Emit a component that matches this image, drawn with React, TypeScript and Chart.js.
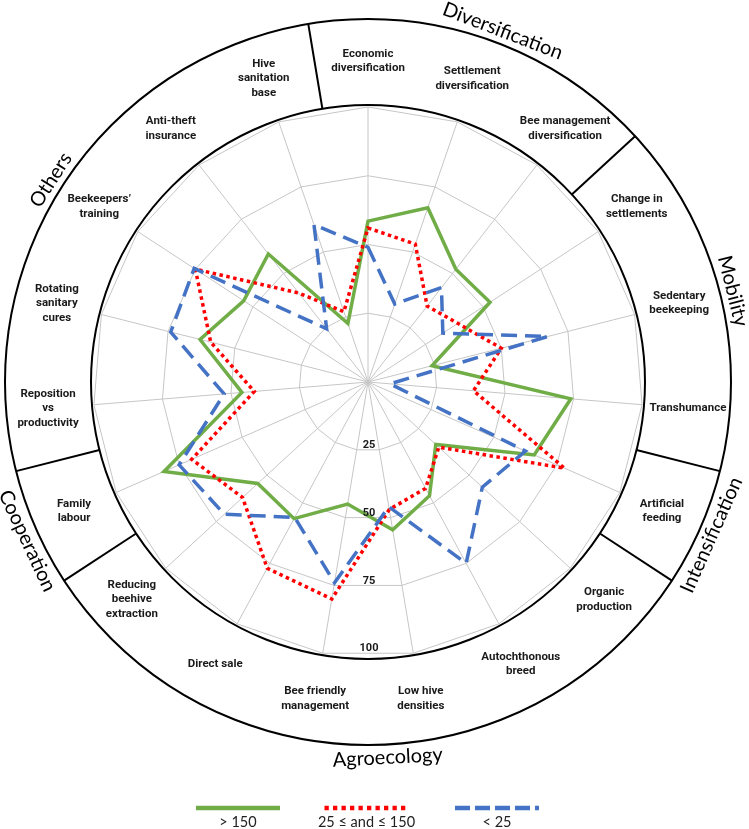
import React, { useEffect, useRef } from 'react';
import { Chart, registerables } from 'chart.js';

Chart.register(...registerables);

// ---------- data ----------
const categories: string[][] = [
  ['Economic', 'diversification'],
  ['Settlement', 'diversification'],
  ['Bee management', 'diversification'],
  ['Change in', 'settlements'],
  ['Sedentary', 'beekeeping'],
  ['Transhumance'],
  ['Artificial', 'feeding'],
  ['Organic', 'production'],
  ['Autochthonous', 'breed'],
  ['Low hive', 'densities'],
  ['Bee friendly', 'management'],
  ['Direct sale'],
  ['Reducing', 'beehive', 'extraction'],
  ['Family', 'labour'],
  ['Reposition', 'vs', 'productivity'],
  ['Rotating', 'sanitary', 'cures'],
  ['Beekeepers\u2019', 'training'],
  ['Anti-theft', 'insurance'],
  ['Hive', 'sanitation', 'base'],
];

const groupNames = ['Diversification', 'Mobility', 'Intensification', 'Agroecology', 'Cooperation', 'Others'];
const groupFirstIndex = [0, 3, 6, 7, 13, 14];

const seriesLabels = ['> 150', '25 \u2264 and \u2264 150', '< 25'];
const over150 = [58.5, 67, 52, 53, 24, 74, 66, 33.5, 47, 54.5, 45, 56.5, 54.5, 81, 46, 63, 54, 59, 22.5];
const from25to150 = [56, 53, 35, 39, 50, 38.5, 78, 35, 44, 47, 80, 77, 62, 70, 41.5, 59, 75, 41, 27];
const under25 = [49, 30, 43.5, 32.5, 67.5, 8, 62.5, 56.5, 75, 46, 74, 56, 71, 75, 52.5, 74, 75.5, 24.5, 60.5];

const tickValues = [25, 50, 75, 100];

// ---------- layout ----------
const W = 749;
const H = 829;
const CX = 368;
const CY = 382;
const RADIUS = 275;
const INNER_R = 277;
const OUTER_R = 363;
const LABEL_R = 321;
const GROUP_R = 376;
const groupAnglesDeg = [21, 76, 114, 177, 245, 302.5];
const legendCenters = [238, 366.5, 497];
const legendHalf = 42;
const legendLineY = 808;
const legendTextY = 822;

const FONT = 'Lato, "Open Sans", "DejaVu Sans", sans-serif';
const BOLD_FONT = 'Roboto, "Open Sans", "DejaVu Sans", sans-serif';

const decorPlugin = {
  id: 'decor',
  beforeDatasetsDraw(chart: any) {
    const s = chart.scales.r;
    const ctx = chart.ctx as CanvasRenderingContext2D;
    const n = categories.length;
    const step = (Math.PI * 2) / n;
    ctx.save();
    ctx.strokeStyle = '#000';
    ctx.lineWidth = 2;
    ctx.beginPath();
    ctx.arc(s.xCenter, s.yCenter, INNER_R, 0, Math.PI * 2);
    ctx.stroke();
    ctx.beginPath();
    ctx.arc(s.xCenter, s.yCenter, OUTER_R, 0, Math.PI * 2);
    ctx.stroke();
    // group separators
    groupFirstIndex.forEach((gi) => {
      const a = s.getIndexAngle(gi) - Math.PI / 2 - step / 2;
      ctx.beginPath();
      ctx.moveTo(s.xCenter + Math.cos(a) * INNER_R, s.yCenter + Math.sin(a) * INNER_R);
      ctx.lineTo(s.xCenter + Math.cos(a) * OUTER_R, s.yCenter + Math.sin(a) * OUTER_R);
      ctx.stroke();
    });
    // category labels
    ctx.fillStyle = '#1a1a1a';
    ctx.font = 'bold 11.5px ' + BOLD_FONT;
    ctx.textAlign = 'center';
    ctx.textBaseline = 'middle';
    const lh = 14.5;
    categories.forEach((lines, i) => {
      const p = s.getPointPosition(i, LABEL_R);
      const y0 = p.y - ((lines.length - 1) * lh) / 2;
      lines.forEach((t, k) => ctx.fillText(t, p.x, y0 + k * lh));
    });
    // group labels
    ctx.fillStyle = '#000';
    ctx.font = '20px ' + FONT;
    groupNames.forEach((name, g) => {
      const deg = groupAnglesDeg[g];
      const rad = (deg * Math.PI) / 180;
      const x = s.xCenter + Math.sin(rad) * GROUP_R;
      const y = s.yCenter - Math.cos(rad) * GROUP_R;
      const rot = deg > 90 && deg < 270 ? rad - Math.PI : rad;
      ctx.save();
      ctx.translate(x, y);
      ctx.rotate(rot);
      ctx.fillText(name, 0, 0);
      ctx.restore();
    });
    ctx.restore();
  },
  afterDatasetsDraw(chart: any) {
    const s = chart.scales.r;
    const ctx = chart.ctx as CanvasRenderingContext2D;
    const n = categories.length;
    ctx.save();
    ctx.fillStyle = '#1a1a1a';
    ctx.font = 'bold 11px ' + BOLD_FONT;
    ctx.textAlign = 'center';
    ctx.textBaseline = 'middle';
    tickValues.forEach((v) => {
      const d = s.getDistanceFromCenterForValue(v);
      const y = s.yCenter + d * Math.cos(Math.PI / n) - 4.5;
      ctx.fillText(String(v), s.xCenter + 1, y);
    });
    // legend
    chart.data.datasets.forEach((ds: any, i: number) => {
      const cx = legendCenters[i];
      ctx.save();
      ctx.strokeStyle = ds.borderColor;
      ctx.lineWidth = 4.5;
      ctx.setLineDash(ds.legendDash || []);
      ctx.beginPath();
      ctx.moveTo(cx - legendHalf, legendLineY);
      ctx.lineTo(cx + legendHalf, legendLineY);
      ctx.stroke();
      ctx.restore();
      ctx.fillStyle = '#222';
      ctx.font = '14.5px ' + FONT;
      ctx.fillText(ds.label, cx, legendTextY);
    });
    ctx.restore();
  },
};

export default function App() {
  const ref = useRef<HTMLCanvasElement | null>(null);
  useEffect(() => {
    if (!ref.current) return;
    const chart = new Chart(ref.current, {
      type: 'radar',
      data: {
        labels: categories,
        datasets: [
          {
            label: seriesLabels[0],
            data: over150,
            borderColor: '#70ad47',
            borderWidth: 3.5,
            fill: false,
            pointRadius: 0,
            tension: 0,
            order: 2,
            legendDash: [],
          } as any,
          {
            label: seriesLabels[1],
            data: from25to150,
            borderColor: '#ff0000',
            borderWidth: 3.5,
            borderDash: [3.5, 3.5],
            fill: false,
            pointRadius: 0,
            tension: 0,
            order: 1,
            legendDash: [4.3, 4.2],
          } as any,
          {
            label: seriesLabels[2],
            data: under25,
            borderColor: '#4472c4',
            borderWidth: 3.5,
            borderDash: [16, 8],
            fill: false,
            pointRadius: 0,
            tension: 0,
            order: 0,
            legendDash: [15, 5],
          } as any,
        ],
      },
      options: {
        responsive: false,
        animation: false,
        layout: { padding: 0 },
        plugins: { legend: { display: false }, tooltip: { enabled: false }, title: { display: false } },
        scales: {
          r: {
            min: 0,
            max: 100,
            ticks: { stepSize: 25, display: false },
            grid: { color: '#c6c6c6', lineWidth: 1, circular: false },
            angleLines: { color: '#c6c6c6', lineWidth: 1 },
            pointLabels: { display: false },
            afterFit: (sc: any) => {
              sc.xCenter = CX;
              sc.yCenter = CY;
              sc.drawingArea = RADIUS;
            },
          } as any,
        },
      },
      plugins: [decorPlugin],
    });
    return () => chart.destroy();
  }, []);
  return (
    <div style={{ position: 'absolute', left: 0, top: 0, width: W, height: H, background: '#fff' }}>
      <canvas ref={ref} width={W} height={H} style={{ display: 'block', width: W, height: H }} />
    </div>
  );
}
